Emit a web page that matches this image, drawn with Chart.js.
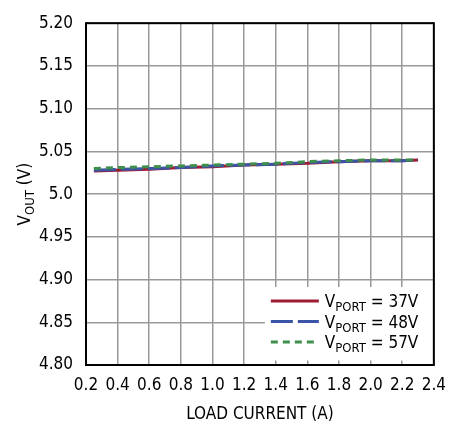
<!DOCTYPE html>
<html>
<head>
<meta charset="utf-8">
<script src="https://cdn.jsdelivr.net/npm/chart.js@4.4.1/dist/chart.umd.min.js"></script>
<style>
  html, body { margin: 0; padding: 0; background: #fff; }
  #wrap { width: 456px; height: 428px; }
</style>
</head>
<body>
<div id="wrap"><canvas id="vout"></canvas></div>
<script>
// load current (A)
const loadCurrent = [0.25, 0.4, 0.6, 0.8, 1.0, 1.2, 1.4, 1.6, 1.8, 2.0, 2.2, 2.3];
// output voltage per port voltage
const vout37 = [5.027, 5.028, 5.029, 5.031, 5.032, 5.034, 5.035, 5.036, 5.038, 5.039, 5.039, 5.040];
const vout48 = [5.028, 5.029, 5.030, 5.031, 5.033, 5.034, 5.035, 5.037, 5.038, 5.039, 5.039, 5.040];
const vout57 = [5.030, 5.031, 5.032, 5.033, 5.034, 5.035, 5.036, 5.038, 5.039, 5.040, 5.040, 5.040];

const seriesNames = ['37V', '48V', '57V'];
const yTickLabels = ['4.80', '4.85', '4.90', '4.95', '5.0', '5.05', '5.10', '5.15', '5.20'];

const FONT = '"Liberation Sans Narrow", "DejaVu Sans Condensed", Arial, sans-serif';
const colors = ['#9e1b32', '#3b54a5', '#3e8e4d'];
const dashes = [[], [22, 5], [7, 5]];

function pts(ys) {
    return loadCurrent.map((x, i) => ({ x: x, y: ys[i] }));
}

// frame + custom legend + y title with subscripts
const decorPlugin = {
    id: 'decor',
    afterDatasetsDraw(chart) {
        const { ctx, chartArea: a } = chart;
        ctx.save();

        // legend box
        const rowH = 20.5;
        const lx = a.right - 163;
        const firstRow = a.bottom - 23 - 2 * rowH;
        ctx.fillStyle = '#fff';
        ctx.fillRect(lx - 6, firstRow - 14, a.right - lx + 6, 3 * rowH + 12);

        seriesNames.forEach((name, i) => {
            const y = firstRow + i * rowH;
            ctx.beginPath();
            ctx.setLineDash(dashes[i]);
            ctx.strokeStyle = colors[i];
            ctx.lineWidth = 3;
            ctx.moveTo(lx, y);
            ctx.lineTo(lx + 48, y);
            ctx.stroke();
            ctx.setLineDash([]);

            ctx.fillStyle = '#000';
            ctx.textBaseline = 'alphabetic';
            ctx.textAlign = 'left';
            let tx = lx + 54;
            ctx.font = '17px ' + FONT;
            ctx.fillText('V', tx, y + 6);
            tx += ctx.measureText('V').width;
            ctx.font = '13px ' + FONT;
            ctx.fillText('PORT', tx, y + 10);
            tx += ctx.measureText('PORT').width;
            ctx.font = '17px ' + FONT;
            ctx.fillText(' = ' + name, tx, y + 6);
        });

        // frame
        ctx.strokeStyle = '#000';
        ctx.lineWidth = 2;
        ctx.strokeRect(a.left, a.top, a.right - a.left, a.bottom - a.top);

        // y title
        ctx.translate(30, (a.top + a.bottom) / 2);
        ctx.rotate(-Math.PI / 2);
        ctx.fillStyle = '#000';
        ctx.textAlign = 'left';
        ctx.font = '17px ' + FONT;
        const w1 = ctx.measureText('V').width;
        ctx.font = '13px ' + FONT;
        const w2 = ctx.measureText('OUT').width;
        ctx.font = '17px ' + FONT;
        const w3 = ctx.measureText(' (V)').width;
        let tx = -(w1 + w2 + w3) / 2;
        ctx.fillText('V', tx, 0);
        tx += w1;
        ctx.font = '13px ' + FONT;
        ctx.fillText('OUT', tx, 4);
        tx += w2;
        ctx.font = '17px ' + FONT;
        ctx.fillText(' (V)', tx, 0);

        ctx.restore();
    }
};

new Chart(document.getElementById('vout'), {
    type: 'line',
    data: {
        datasets: seriesNames.map((n, i) => ({
            label: 'VPORT = ' + n,
            data: pts([vout37, vout48, vout57][i]),
            borderColor: colors[i],
            borderWidth: 3,
            borderDash: dashes[i],
            pointRadius: 0,
            tension: 0,
            order: 3 - i
        }))
    },
    options: {
        responsive: true,
        maintainAspectRatio: false,
        animation: false,
        layout: { padding: { left: 0, right: 18, top: 14, bottom: 2 } },
        plugins: { legend: { display: false }, tooltip: { enabled: false } },
        scales: {
            x: {
                type: 'linear',
                min: 0.2,
                max: 2.4,
                afterBuildTicks(scale) {
                    scale.ticks = [];
                    for (let k = 2; k <= 24; k += 2) scale.ticks.push({ value: k / 10 });
                },
                ticks: {
                    color: '#000',
                    font: { family: FONT, size: 17 },
                    padding: 10,
                    maxRotation: 0,
                    autoSkip: false,
                    callback: v => v.toFixed(1)
                },
                grid: { color: '#999', lineWidth: 1.5, drawTicks: false },
                border: { display: false },
                title: {
                    display: true,
                    text: 'LOAD CURRENT (A)',
                    color: '#000',
                    font: { family: FONT, size: 17 },
                    padding: { top: 2, bottom: 1 }
                },
                afterFit(scale) { scale.height = 61; }
            },
            y: {
                min: 4.80,
                max: 5.20,
                afterBuildTicks(scale) {
                    scale.ticks = yTickLabels.map(t => ({ value: parseFloat(t) }));
                },
                ticks: {
                    color: '#000',
                    font: { family: FONT, size: 17 },
                    padding: 13,
                    autoSkip: false,
                    callback: (v, i) => yTickLabels[i]
                },
                grid: { color: '#999', lineWidth: 1.5, drawTicks: false },
                border: { display: false },
                afterFit(scale) { scale.width = 86; }
            }
        }
    },
    plugins: [decorPlugin]
});
</script>
</body>
</html>
